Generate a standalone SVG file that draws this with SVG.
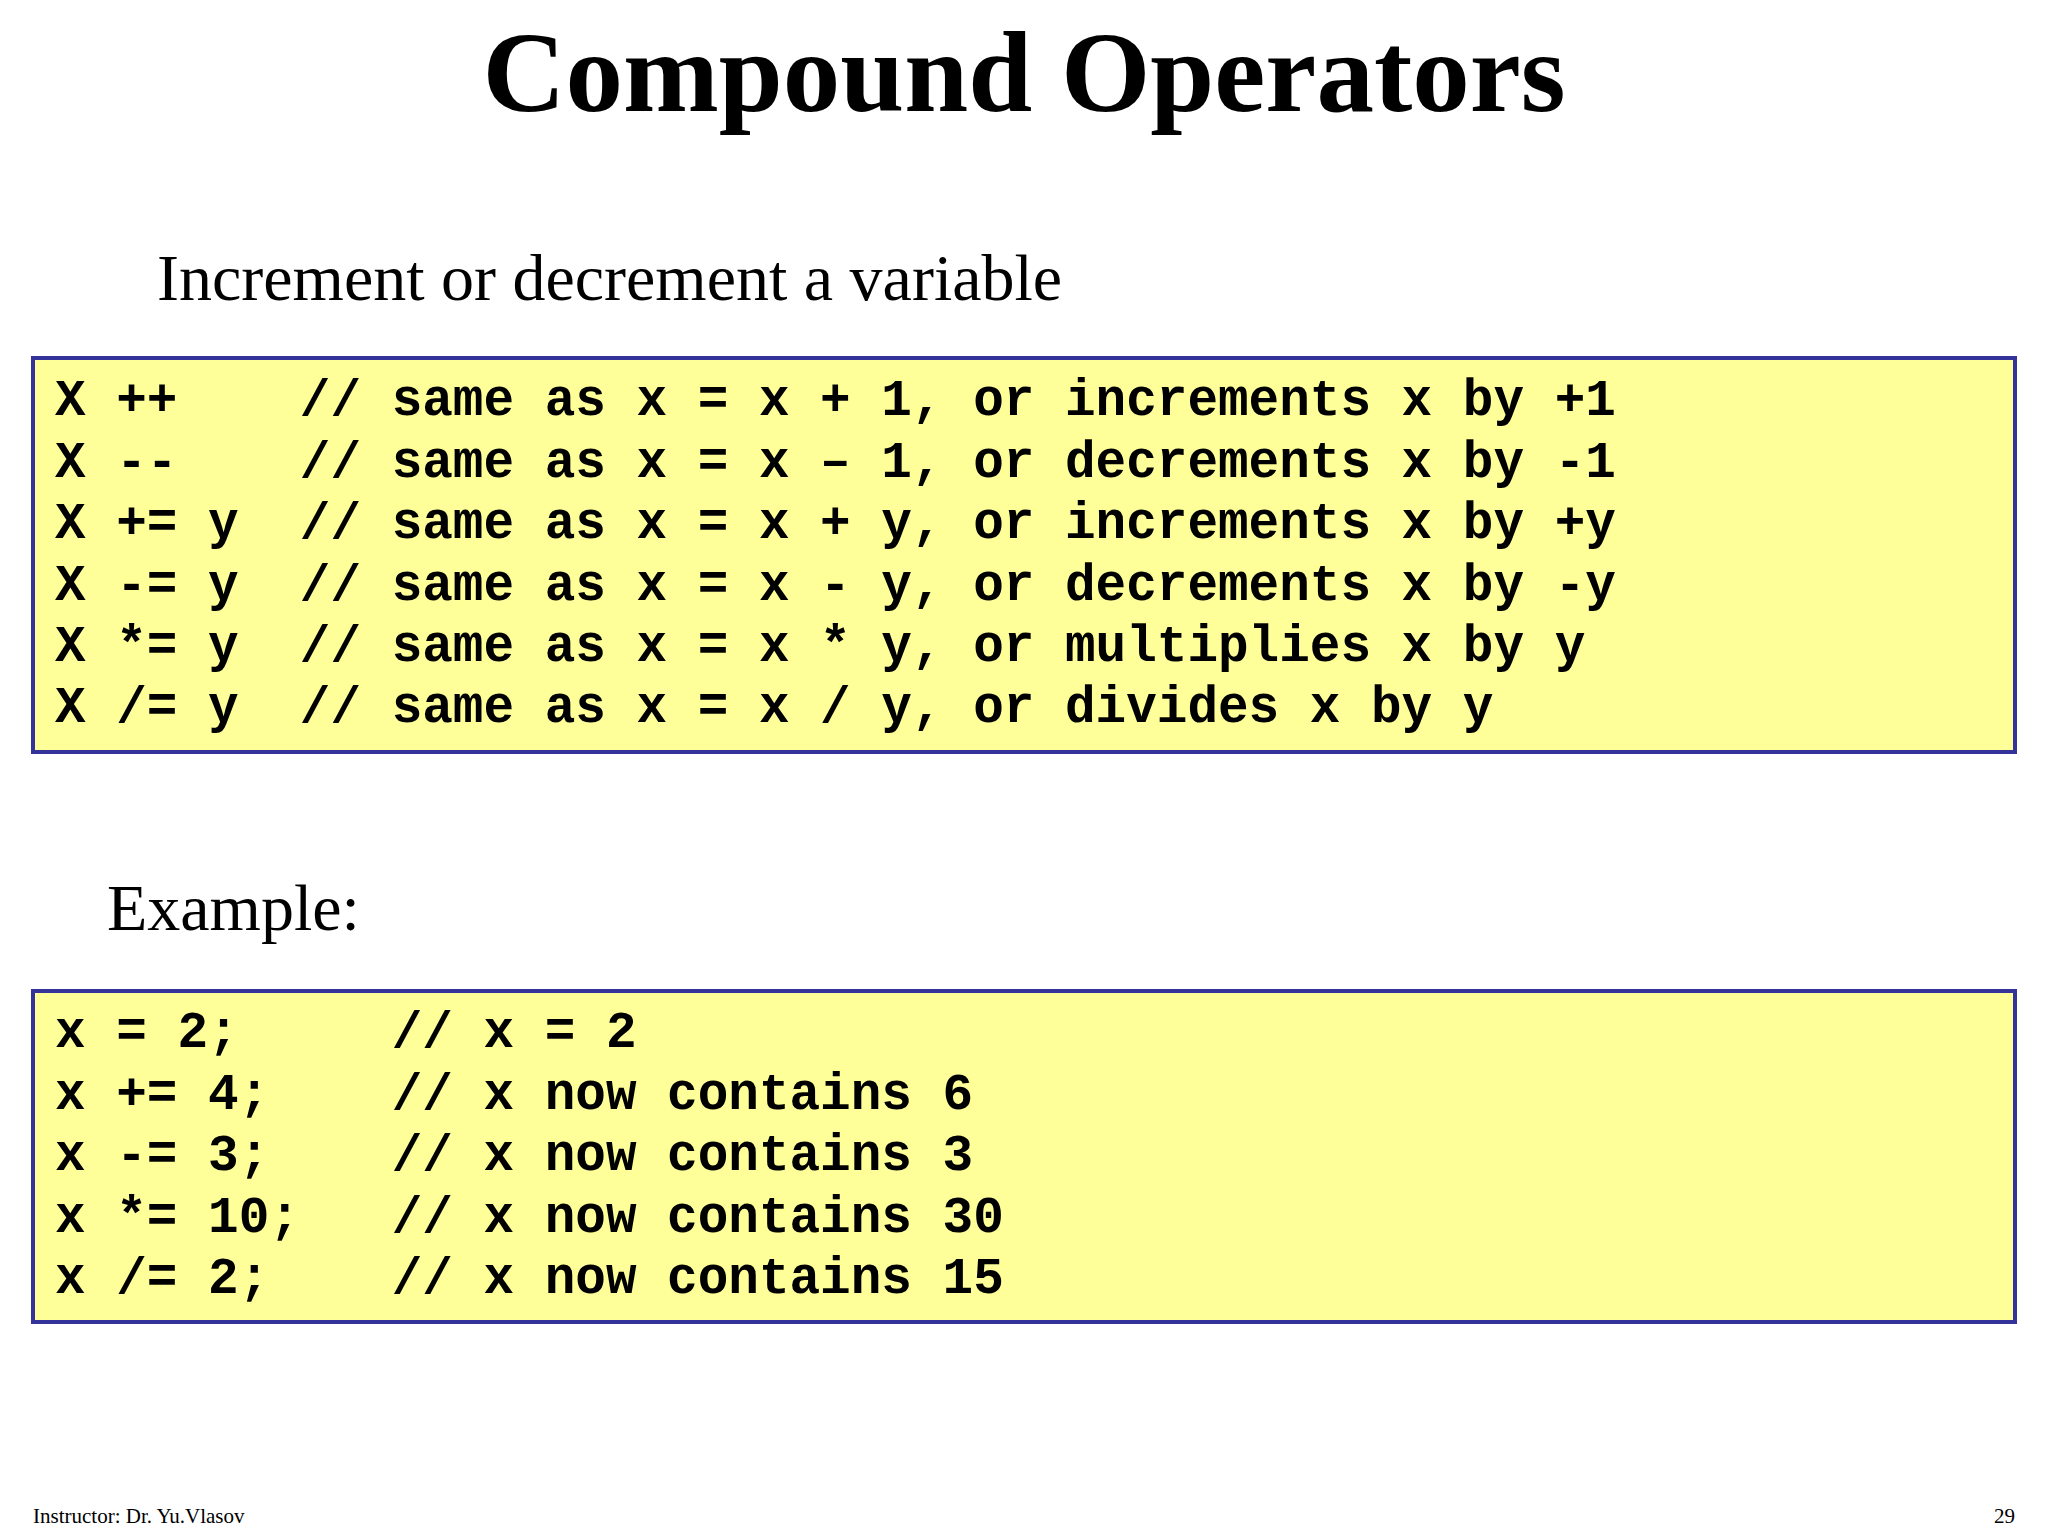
<svg xmlns="http://www.w3.org/2000/svg" width="2048" height="1536" viewBox="0 0 2048 1536">
<style>
.code{font-family:"Liberation Mono",monospace;font-weight:bold;font-size:51px;fill:#000;white-space:pre}
.box{fill:#ffff99;stroke:#333399;stroke-width:4}
.serif{font-family:"Liberation Serif",serif;fill:#000}
</style>
<rect width="2048" height="1536" fill="#fff"/>
<text class="serif" x="1024" y="111" font-size="115" font-weight="bold" text-anchor="middle">Compound Operators</text>
<text class="serif" x="157" y="300" font-size="66">Increment or decrement a variable</text>
<g id="box1">
<rect class="box" x="33" y="358" width="1982" height="394"/>
<text class="code" xml:space="preserve" x="55" y="415">X ++    // same as x = x + 1, or increments x by +1</text>
<text class="code" xml:space="preserve" x="55" y="477">X --    // same as x = x – 1, or decrements x by -1</text>
<text class="code" xml:space="preserve" x="55" y="538">X += y  // same as x = x + y, or increments x by +y</text>
<text class="code" xml:space="preserve" x="55" y="600">X -= y  // same as x = x - y, or decrements x by -y</text>
<text class="code" xml:space="preserve" x="55" y="661">X *= y  // same as x = x * y, or multiplies x by y</text>
<text class="code" xml:space="preserve" x="55" y="722">X /= y  // same as x = x / y, or divides x by y</text>
</g>
<text class="serif" x="107" y="930" font-size="66">Example:</text>
<g id="box2">
<rect class="box" x="33" y="991" width="1982" height="331"/>
<text class="code" xml:space="preserve" x="55" y="1047">x = 2;     // x = 2</text>
<text class="code" xml:space="preserve" x="55" y="1109">x += 4;    // x now contains 6</text>
<text class="code" xml:space="preserve" x="55" y="1170">x -= 3;    // x now contains 3</text>
<text class="code" xml:space="preserve" x="55" y="1232">x *= 10;   // x now contains 30</text>
<text class="code" xml:space="preserve" x="55" y="1293">x /= 2;    // x now contains 15</text>
</g>
<g id="connectors"/>
<text class="serif" x="33" y="1523" font-size="21">Instructor: Dr. Yu.Vlasov</text>
<text class="serif" x="2015" y="1523" font-size="21" text-anchor="end">29</text>
</svg>
